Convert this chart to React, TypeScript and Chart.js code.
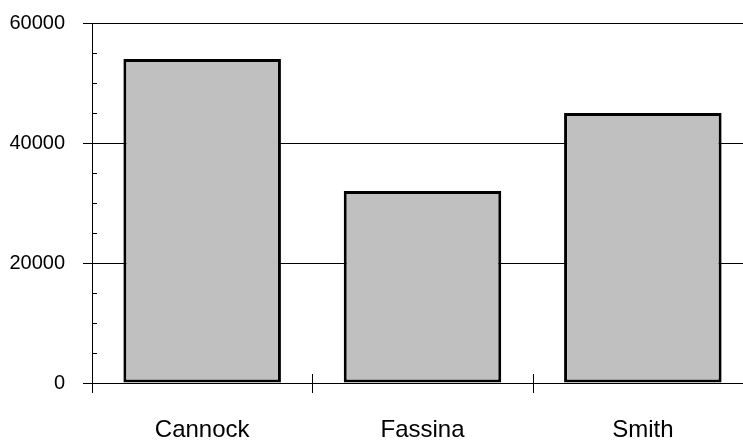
import React, { useEffect, useRef } from "react";
import { Chart, registerables } from "chart.js";

Chart.register(...registerables);

const categories: string[] = ["Cannock", "Fassina", "Smith"];
const values: number[] = [54000, 32000, 45000];
const yMin = 0;
const yMax = 60000;
const majorStep = 20000;
const minorStep = 5000;

const FONT = "'Liberation Sans', Arial, sans-serif";

const axisDecor = {
  id: "axisDecor",
  afterDraw(chart: any) {
    const ctx = chart.ctx;
    const xs = chart.scales.x;
    const ys = chart.scales.y;
    const area = chart.chartArea;
    ctx.save();
    ctx.strokeStyle = "#000";
    ctx.lineWidth = 1;
    // minor ticks on the y axis (inside)
    for (let v = yMin; v <= yMax; v += minorStep) {
      if (v % majorStep === 0) continue;
      const y = Math.round(ys.getPixelForValue(v)) + 0.5;
      ctx.beginPath();
      ctx.moveTo(area.left, y);
      ctx.lineTo(area.left + 5, y);
      ctx.stroke();
    }
    // y axis extension below zero
    const x0 = Math.round(area.left) + 0.5;
    ctx.beginPath();
    ctx.moveTo(x0, area.bottom);
    ctx.lineTo(x0, area.bottom + 10);
    ctx.stroke();
    // category separators crossing the x axis
    for (let i = 1; i < categories.length; i++) {
      const x = Math.round((xs.getPixelForValue(i - 1) + xs.getPixelForValue(i)) / 2) + 0.5;
      ctx.beginPath();
      ctx.moveTo(x, area.bottom - 9);
      ctx.lineTo(x, area.bottom + 10);
      ctx.stroke();
    }
    ctx.restore();
  },
};

export default function App() {
  const ref = useRef<HTMLCanvasElement | null>(null);
  useEffect(() => {
    if (!ref.current) return;
    const chart = new Chart(ref.current, {
      type: "bar",
      data: {
        labels: categories,
        datasets: [
          {
            data: values,
            backgroundColor: "#c0c0c0",
            borderColor: "#000",
            borderWidth: 3,
            borderSkipped: false,
            barPercentage: 0.715,
            categoryPercentage: 1,
          },
        ],
      },
      options: {
        animation: false,
        responsive: false,
        maintainAspectRatio: false,
        layout: { padding: { top: 23, right: 0, left: 0, bottom: 0 } },
        plugins: { legend: { display: false }, tooltip: { enabled: false } },
        scales: {
          x: {
            grid: { display: false },
            border: { display: true, color: "#000", width: 1 },
            ticks: {
              color: "#000",
              font: { family: FONT, size: 24 },
              padding: 25,
              maxRotation: 0,
            },
            afterFit(scale: any) {
              scale.height = 58;
              scale.paddingLeft = 0;
              scale.paddingRight = 0;
            },
          },
          y: {
            min: yMin,
            max: yMax,
            grid: {
              color: (c: any) => (c.tick && c.tick.value % majorStep === 0 ? "#000" : "rgba(0,0,0,0)"),
              lineWidth: 1,
              tickLength: 9,
            },
            border: { display: true, color: "#000", width: 1 },
            ticks: {
              stepSize: minorStep,
              color: "#000",
              font: { family: FONT, size: 20 },
              padding: 18,
              callback: (v: any) => (Number(v) % majorStep === 0 ? String(v) : ""),
            },
            afterFit(scale: any) {
              scale.width = 92;
              scale.paddingTop = 0;
              scale.paddingBottom = 0;
            },
          },
        },
      },
      plugins: [axisDecor],
    });
    return () => chart.destroy();
  }, []);
  return (
    <div
      style={{
        position: "fixed",
        left: 0,
        top: 0,
        width: 743,
        height: 441,
        overflow: "hidden",
        background: "#fff",
      }}
    >
      <canvas ref={ref} width={753} height={441} style={{ display: "block", width: 753, height: 441 }} />
    </div>
  );
}
